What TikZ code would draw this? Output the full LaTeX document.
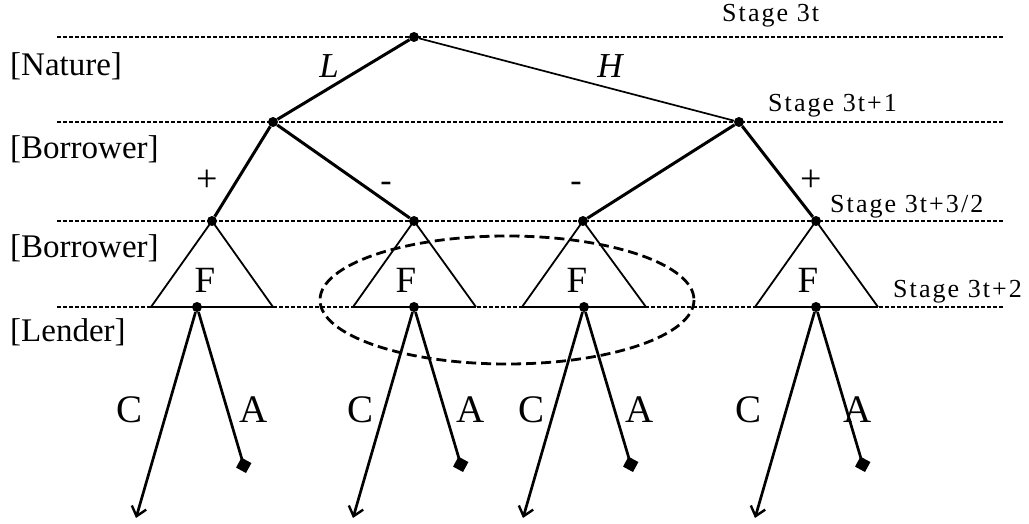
\documentclass[tikz,border=0pt]{standalone}
\usepackage{fontspec}
\setmainfont{Liberation Serif}
\usetikzlibrary{arrows.meta}
\begin{document}
\begin{tikzpicture}[x=1pt,y=-1pt,
  dot/.style={circle,fill=black,inner sep=0pt,minimum size=10pt},
  stageline/.style={line width=1.6pt,dash pattern=on 3.5pt off 2.5pt},
  thickedge/.style={line width=3pt},
  thinedge/.style={line width=1.7pt},
  triside/.style={line width=1.8pt},
  tribase/.style={line width=2.2pt},
  carrow/.style={line width=2.7pt,-{Straight Barb[length=9pt,width=15pt,line width=2.4pt]}},
  aline/.style={line width=2.7pt,-{Diamond[length=16pt,width=16pt]}},
  info/.style={line width=2.8pt,dash pattern=on 10pt off 5pt},
  role/.style={anchor=base west,inner sep=0pt,font=\fontsize{33}{36}\selectfont},
  stage/.style={anchor=base west,inner sep=0pt,font=\fontsize{26}{28}\selectfont\addfontfeature{LetterSpace=8}},
  sign/.style={anchor=base,inner sep=0pt,font=\fontsize{38}{40}\selectfont},
  minus/.style={anchor=base,inner sep=0pt,font=\fontsize{34}{36}\selectfont},
  move/.style={anchor=base,inner sep=0pt,font=\fontsize{35}{38}\selectfont\itshape},
  flab/.style={anchor=base,inner sep=0pt,font=\fontsize{37}{39}\selectfont},
  calab/.style={anchor=base,inner sep=0pt,font=\fontsize{39}{41}\selectfont}]
\useasboundingbox (0,0) rectangle (1029,524);
% stage lines
\coordinate (l0a) at (57,37);  \coordinate (l0b) at (1003,37);
\coordinate (l1a) at (57,122); \coordinate (l1b) at (1003,122);
\coordinate (l2a) at (57,221); \coordinate (l2b) at (1003,221);
\coordinate (l3a) at (57,307); \coordinate (l3b) at (1003,307);
\draw[stageline] (l0a) -- (l0b);
\draw[stageline] (l1a) -- (l1b);
\draw[stageline] (l2a) -- (l2b);
\draw[stageline] (l3a) -- (l3b);
% role labels
\node[role] (rN) at (10,76) {[Nature]};
\node[role] (rB1) at (10,159) {[Borrower]};
\node[role] (rB2) at (10,257) {[Borrower]};
\node[role] (rL) at (10,341) {[Lender]};
% stage labels
\node[stage] (s0) at (722,22) {Stage 3t};
\node[stage] (s1) at (768,112) {Stage 3t+1};
\node[stage] (s2) at (830,212) {Stage 3t+3/2};
\node[stage] (s3) at (893,297) {Stage 3t+2};
% tree nodes
\node[dot] (n0) at (414,37) {};
\node[dot] (nL) at (273,122) {};
\node[dot] (nH) at (739,122) {};
\node[dot] (m1) at (212,221) {};
\node[dot] (m2) at (414,221) {};
\node[dot] (m3) at (583,221) {};
\node[dot] (m4) at (816,221) {};
% triangle base corners
\coordinate (t1l) at (151,307); \coordinate (t1r) at (273,307);
\coordinate (t2l) at (353,307); \coordinate (t2r) at (476,307);
\coordinate (t3l) at (522,307); \coordinate (t3r) at (646,307);
\coordinate (t4l) at (755,307); \coordinate (t4r) at (878,307);
\foreach \i in {1,2,3,4}{
  \draw[triside] (t\i l) -- (m\i.center) -- (t\i r);
  \draw[tribase] (t\i l) -- (t\i r);
}
% tree edges
\draw[thickedge] (n0) -- (nL);
\draw[thinedge] (n0) -- (nH);
\draw[thickedge] (nL) -- (m1);
\draw[thickedge] (nL) -- (m2);
\draw[thickedge] (nH) -- (m3);
\draw[thickedge] (nH) -- (m4);
% bottom nodes
\node[dot] (b1) at (197,307) {};
\node[dot] (b2) at (414,307) {};
\node[dot] (b3) at (584,307) {};
\node[dot] (b4) at (816,307) {};
% ends
\coordinate (c1) at (136,518); \coordinate (a1) at (246,473);
\coordinate (c2) at (353,518); \coordinate (a2) at (463,472);
\coordinate (c3) at (523,518); \coordinate (a3) at (633,472);
\coordinate (c4) at (755,518); \coordinate (a4) at (865,472);
\foreach \i in {1,2,3,4}{
  \draw[carrow] (b\i) -- (c\i);
  \draw[aline] (b\i) -- (a\i);
}
% information set
\draw[info] (507,300) ellipse [x radius=187, y radius=64];
% labels
\node[move] (lL) at (329,78) {L};
\node[move] (lH) at (610,78) {H};
\node[sign] (p1) at (207,192) {+};
\node[minus] (q1) at (386,192) {-};
\node[minus] (q2) at (576,192) {-};
\node[sign] (p2) at (811,192) {+};
\node[flab] (f1) at (205,292) {F};
\node[flab] (f2) at (406,292) {F};
\node[flab] (f3) at (577,292) {F};
\node[flab] (f4) at (808,292) {F};
\node[calab] (lc1) at (130,422) {C};
\node[calab] (la1) at (254,422) {A};
\node[calab] (lc2) at (361,422) {C};
\node[calab] (la2) at (471,422) {A};
\node[calab] (lc3) at (532,422) {C};
\node[calab] (la3) at (640,422) {A};
\node[calab] (lc4) at (749,422) {C};
\node[calab] (la4) at (858,422) {A};
\end{tikzpicture}
\end{document}
